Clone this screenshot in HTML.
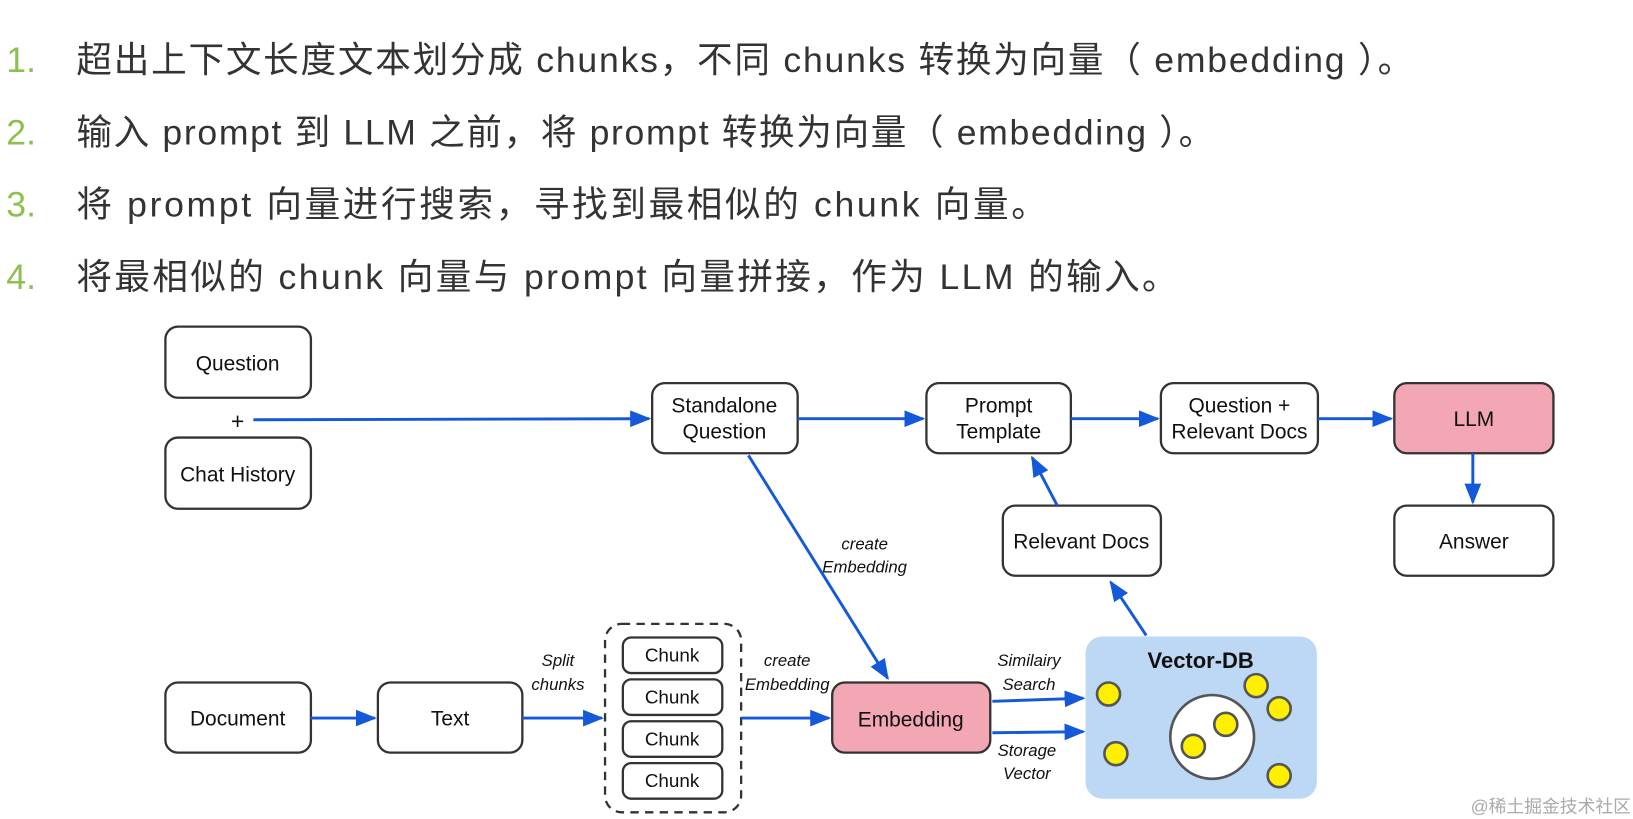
<!DOCTYPE html>
<html><head><meta charset="utf-8"><style>
html,body{margin:0;padding:0;background:#fff;width:1633px;height:819px;overflow:hidden}
svg{display:block}
text{font-family:"Liberation Sans","Noto Sans CJK SC",sans-serif}
</style></head><body>
<svg width="1633" height="819" viewBox="0 0 1560 782.4" xmlns="http://www.w3.org/2000/svg">
<defs>
<marker id="b" markerWidth="20" markerHeight="16" refX="18" refY="8" orient="auto" markerUnits="userSpaceOnUse">
<path d="M0,0 L20,8 L0,16 z" fill="#1459d9"/></marker>
</defs>
<g font-size="34" fill="#333">
<text x="6" y="69" fill="#8cc152">1.</text>
<text x="6" y="138" fill="#8cc152">2.</text>
<text x="6" y="207" fill="#8cc152">3.</text>
<text x="6" y="276" fill="#8cc152">4.</text>
<text x="73" y="69" textLength="1277" lengthAdjust="spacing">超出上下文长度文本划分成 chunks，不同 chunks 转换为向量（ embedding ）。</text>
<text x="73" y="138" textLength="1087" lengthAdjust="spacing">输入 prompt 到 LLM 之前，将 prompt 转换为向量（ embedding ）。</text>
<text x="73" y="207" textLength="927" lengthAdjust="spacing">将 prompt 向量进行搜索，寻找到最相似的 chunk 向量。</text>
<text x="73" y="276" textLength="1052" lengthAdjust="spacing">将最相似的 chunk 向量与 prompt 向量拼接，作为 LLM 的输入。</text>
</g>
<g stroke="#333" stroke-width="2.2" fill="#fff">
<rect x="158" y="312" width="139" height="68" rx="12"/>
<rect x="158" y="418" width="139" height="68" rx="12"/>
<rect x="623" y="366" width="139" height="67" rx="12"/>
<rect x="885" y="366" width="138" height="67" rx="12"/>
<rect x="1109" y="366" width="150" height="67" rx="12"/>
<rect x="1332" y="366" width="152" height="67" rx="12" fill="#f3a6b4"/>
<rect x="1332" y="483" width="152" height="67" rx="12"/>
<rect x="958" y="483" width="151" height="67" rx="12"/>
<rect x="158" y="652" width="139" height="67" rx="12"/>
<rect x="361" y="652" width="138" height="67" rx="12"/>
<rect x="578" y="596" width="130" height="180" rx="16" stroke-dasharray="8,6"/>
<rect x="595" y="609" width="95" height="34" rx="8"/>
<rect x="595" y="649" width="95" height="34" rx="8"/>
<rect x="595" y="689" width="95" height="34" rx="8"/>
<rect x="595" y="729" width="95" height="34" rx="8"/>
<rect x="795" y="652" width="151" height="67" rx="12" fill="#f3a6b4"/>
</g>
<rect x="1037" y="608" width="221" height="155" rx="16" fill="#bdd8f5"/>
<g stroke="#1459d9" stroke-width="2.8" fill="none" marker-end="url(#b)">
<line x1="242" y1="401" x2="620" y2="400"/>
<line x1="762" y1="400" x2="882" y2="400"/>
<line x1="1023" y1="400" x2="1106" y2="400"/>
<line x1="1259" y1="400" x2="1329" y2="400"/>
<line x1="1407" y1="433" x2="1407" y2="480"/>
<line x1="1010" y1="483" x2="986" y2="437"/>
<line x1="1095" y1="607" x2="1061" y2="556"/>
<line x1="715" y1="435" x2="848" y2="648"/>
<line x1="297" y1="686" x2="358" y2="686"/>
<line x1="499" y1="686" x2="575" y2="686"/>
<line x1="708" y1="686" x2="792" y2="686"/>
<line x1="948" y1="670" x2="1035" y2="667"/>
<line x1="948" y1="700" x2="1035" y2="699"/>
</g>
<g font-size="20" fill="#111" text-anchor="middle">
<text x="227" y="354">Question</text>
<text x="227" y="410" font-size="22">+</text>
<text x="227" y="460">Chat History</text>
<text x="692" y="394">Standalone</text>
<text x="692" y="419">Question</text>
<text x="954" y="394">Prompt</text>
<text x="954" y="419">Template</text>
<text x="1184" y="394">Question +</text>
<text x="1184" y="419">Relevant Docs</text>
<text x="1408" y="407">LLM</text>
<text x="1408" y="524">Answer</text>
<text x="1033" y="524">Relevant Docs</text>
<text x="227" y="693">Document</text>
<text x="430" y="693">Text</text>
<text x="642" y="632" font-size="18">Chunk</text>
<text x="642" y="672" font-size="18">Chunk</text>
<text x="642" y="712" font-size="18">Chunk</text>
<text x="642" y="752" font-size="18">Chunk</text>
<text x="870" y="694">Embedding</text>
<text x="1147" y="638" font-weight="bold" font-size="21">Vector-DB</text>
</g>
<g font-size="16" font-style="italic" fill="#111" text-anchor="middle">
<text x="826" y="525">create</text>
<text x="826" y="547">Embedding</text>
<text x="533" y="636">Split</text>
<text x="533" y="659">chunks</text>
<text x="752" y="636">create</text>
<text x="752" y="659">Embedding</text>
<text x="983" y="636">Similairy</text>
<text x="983" y="659">Search</text>
<text x="981" y="722">Storage</text>
<text x="981" y="744">Vector</text>
</g>
<circle cx="1158" cy="704" r="40" fill="#fff" stroke="#555" stroke-width="2.5"/>
<g fill="#ffef00" stroke="#555" stroke-width="2.5">
<circle cx="1059" cy="663" r="11"/>
<circle cx="1066" cy="720" r="11"/>
<circle cx="1200" cy="655" r="11"/>
<circle cx="1222" cy="677" r="11"/>
<circle cx="1222" cy="741" r="11"/>
<circle cx="1171" cy="692" r="11"/>
<circle cx="1140" cy="713" r="11"/>
</g>
<text x="1558" y="776" font-size="17" fill="#aaa" text-anchor="end" font-family="Noto Sans CJK SC, sans-serif">@稀土掘金技术社区</text>
</svg>
</body></html>
